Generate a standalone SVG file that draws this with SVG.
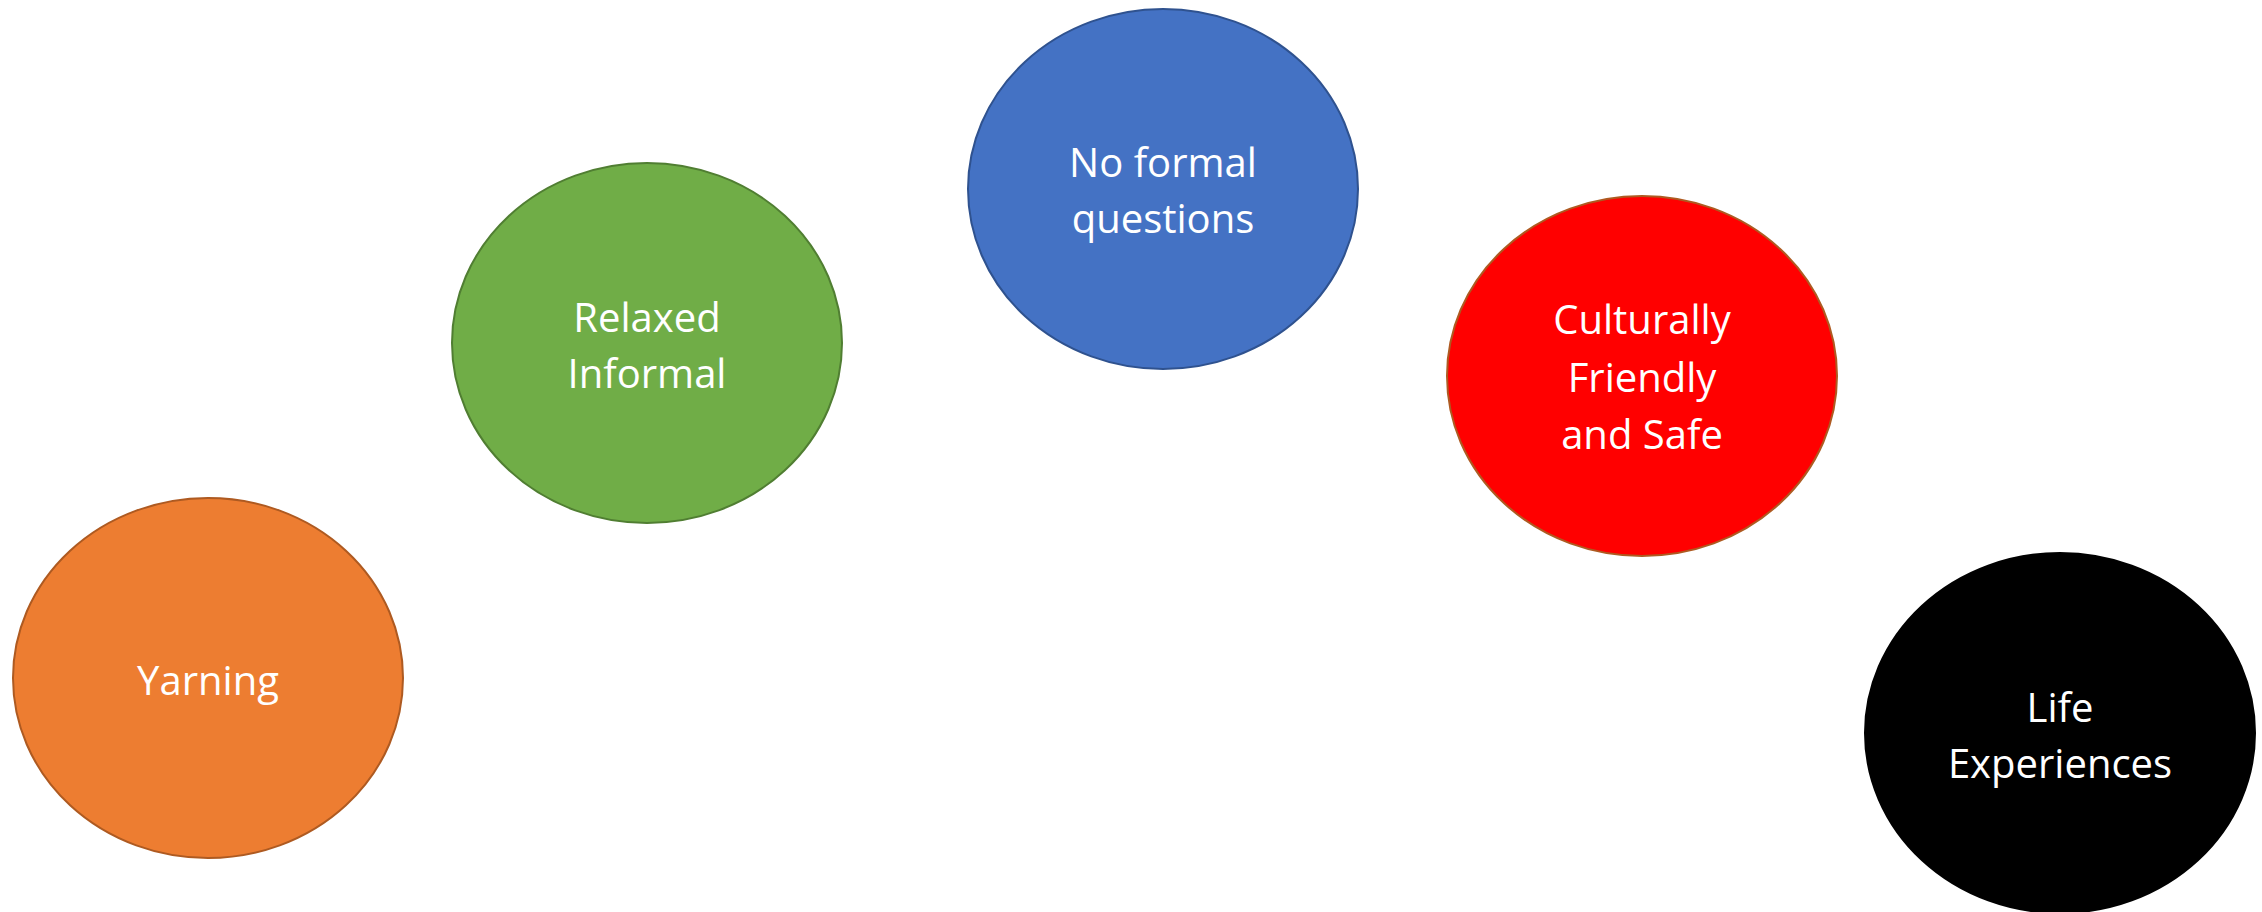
<svg xmlns="http://www.w3.org/2000/svg" width="2262" height="912" viewBox="0 0 2262 912">
<style>
.n{stroke-width:2}
.t{font-family:"Open Sans","Noto Sans","Liberation Sans",sans-serif;font-size:40px;fill:#ffffff;text-anchor:middle}
</style>
<rect width="2262" height="912" fill="#ffffff"/>
<g id="connectors"></g>
<g id="yarning">
<ellipse class="n" cx="208" cy="678" rx="195" ry="180" fill="#ED7D31" stroke="#AE5A21"/>
<text class="t" x="208" y="695">Yarning</text>
</g>
<g id="relaxed">
<ellipse class="n" cx="647" cy="343" rx="195" ry="180" fill="#70AD47" stroke="#507E32"/>
<text class="t" x="647" y="332">Relaxed</text>
<text class="t" x="647" y="388">Informal</text>
</g>
<g id="noformal">
<ellipse class="n" cx="1163" cy="189" rx="195" ry="180" fill="#4472C4" stroke="#2F528F"/>
<text class="t" x="1163" y="177">No formal</text>
<text class="t" x="1163" y="233">questions</text>
</g>
<g id="cultural">
<ellipse class="n" cx="1642" cy="376" rx="195" ry="180" fill="#FF0000" stroke="#AE5A21"/>
<text class="t" x="1642" y="334">Culturally</text>
<text class="t" x="1642" y="392">Friendly</text>
<text class="t" x="1642" y="449">and Safe</text>
</g>
<g id="life">
<ellipse class="n" cx="2060" cy="733" rx="195" ry="180" fill="#000000" stroke="#000000"/>
<text class="t" x="2060" y="722">Life</text>
<text class="t" x="2060" y="778">Experiences</text>
</g>
</svg>
